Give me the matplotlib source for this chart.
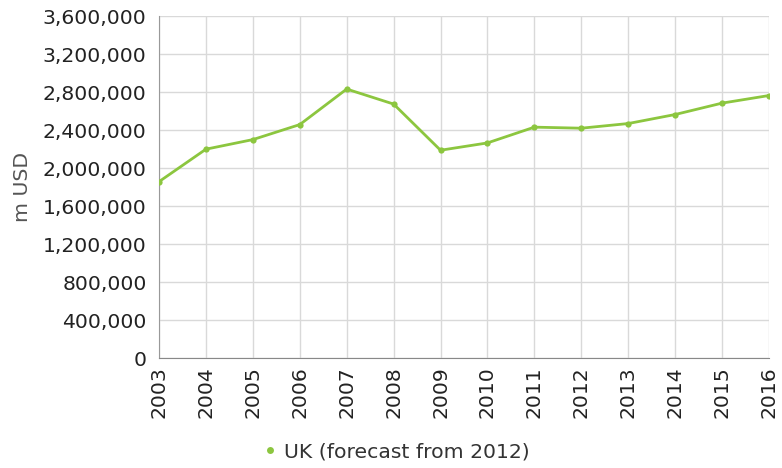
import matplotlib
matplotlib.use("Agg")
import matplotlib.pyplot as plt
from matplotlib.lines import Line2D
from matplotlib.ticker import FuncFormatter, MultipleLocator

# UK series, m USD (forecast from 2012)
years = [2003, 2004, 2005, 2006, 2007, 2008, 2009,
         2010, 2011, 2012, 2013, 2014, 2015, 2016]
values = [1856000, 2198000, 2299000, 2457000, 2831000, 2673000, 2187000,
          2264000, 2430000, 2419000, 2468000, 2563000, 2683000, 2763000]
series_label = "UK (forecast from 2012)"

GREEN = "#8cc63f"
GRID = "#d9d9d9"
FS = 14.7

plt.rcParams["font.family"] = ["DejaVu Sans"]

fig = plt.figure(figsize=(7.82, 4.68), dpi=100)
ax = fig.add_axes([159 / 782, 110 / 468, 610 / 782, 342 / 468])

ax.plot(years, values, color=GREEN, linewidth=2.0, marker="o",
        markersize=4.5, markeredgewidth=0, zorder=3)

ax.set_xlim(years[0], years[-1])
ax.set_ylim(0, 3600000)
ax.set_xticks(years)
ax.yaxis.set_major_locator(MultipleLocator(400000))
ax.yaxis.set_major_formatter(FuncFormatter(lambda v, _: f"{v:,.0f}"))

ax.grid(True, color=GRID, linewidth=1.0)
ax.set_axisbelow(True)
for side in ("top", "right"):
    ax.spines[side].set_visible(False)
ax.spines["left"].set_color("#999999")
ax.spines["bottom"].set_color("#888888")

ax.tick_params(axis="both", length=0, labelsize=FS, colors="#222222")
ax.tick_params(axis="x", rotation=90, pad=6)
ax.tick_params(axis="y", pad=9)

ax.set_ylabel("m USD", fontsize=FS, color="#555555")
ax.yaxis.set_label_coords(-0.208, 0.5)

handle = Line2D([], [], color=GREEN, marker="o", linestyle="none",
                markersize=5, markeredgewidth=0)
fig.legend([handle], [series_label], loc="center", bbox_to_anchor=(0.505, 0.034),
           frameon=False, fontsize=FS, labelcolor="#333333",
           handletextpad=0.2, handlelength=1.0)

fig.savefig("out.png", dpi=100)
